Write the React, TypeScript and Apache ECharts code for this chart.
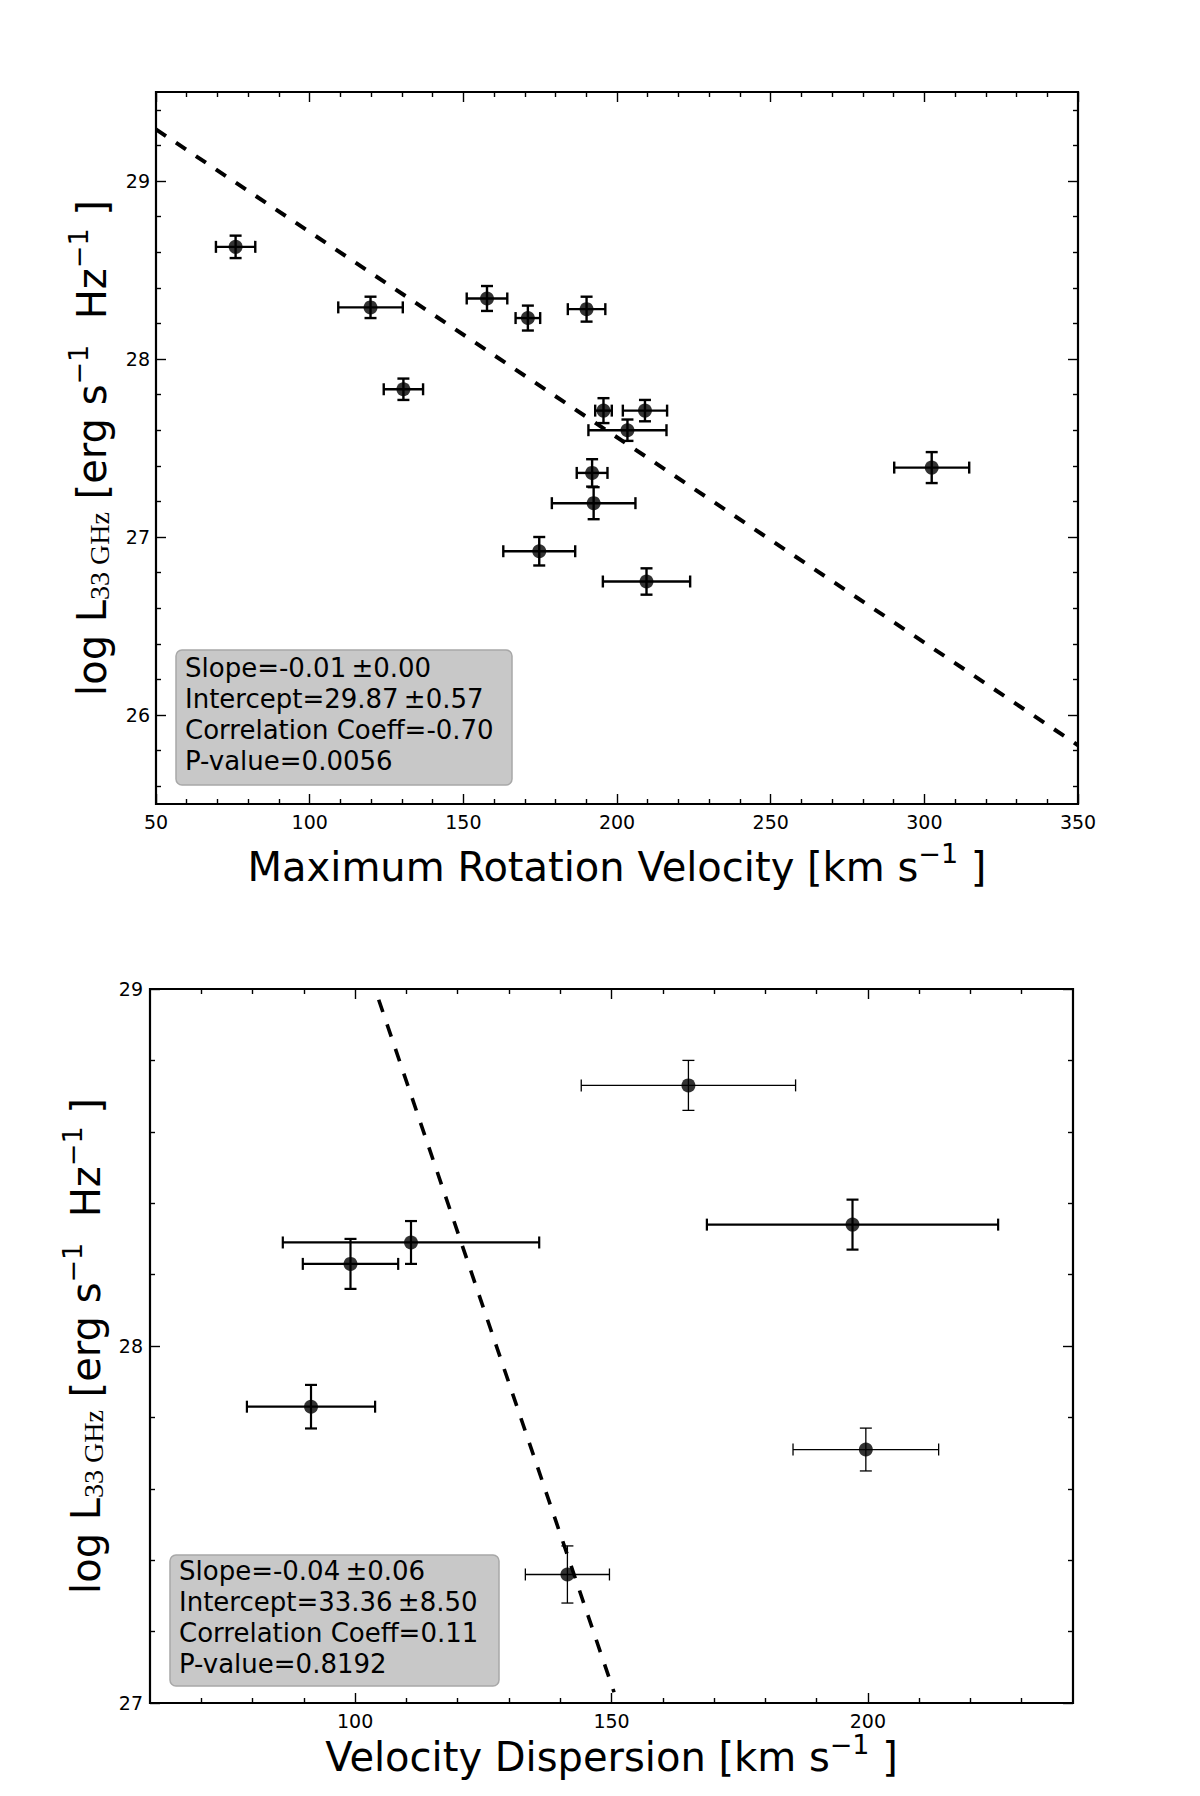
import React, { useEffect, useRef } from "react";
import * as echarts from "echarts";

// ---- data ----
// top panel: maximum rotation velocity vs 33 GHz luminosity
const vrot = [75.9, 119.8, 130.5, 157.7, 171.0, 190.1, 195.6, 209.1, 203.4, 191.9, 192.4, 174.7, 209.6, 302.4];
const vrotErr = [6.4, 10.5, 6.4, 6.6, 4.0, 6.1, 2.7, 7.2, 12.7, 5.0, 13.6, 11.7, 14.2, 12.2];
const lumTop = [28.63, 28.29, 27.83, 28.34, 28.23, 28.28, 27.71, 27.71, 27.6, 27.36, 27.19, 26.92, 26.75, 27.39];
const lumTopErr = [0.063, 0.06, 0.06, 0.07, 0.07, 0.07, 0.07, 0.06, 0.06, 0.077, 0.09, 0.08, 0.074, 0.087];
const fitTop = [[50, 29.29], [350, 25.83]];
const statsTop = ["Slope=-0.01\u2009±0.00", "Intercept=29.87\u2009±0.57", "Correlation Coeff=-0.70", "P-value=0.0056"];

// bottom panel: velocity dispersion vs 33 GHz luminosity
const sigma = [165.0, 197.0, 110.9, 99.1, 91.4, 199.6, 141.4];
const sigmaErr = [20.9, 28.4, 25.0, 9.3, 12.5, 14.2, 8.2];
const lumBot = [28.73, 28.34, 28.29, 28.23, 27.83, 27.71, 27.36];
const lumBotErr = [0.07, 0.07, 0.06, 0.07, 0.061, 0.06, 0.08];
const fitBot = [[104.6, 28.97], [150.5, 27.03]];
const statsBot = ["Slope=-0.04\u2009±0.06", "Intercept=33.36\u2009±8.50", "Correlation Coeff=0.11", "P-value=0.8192"];

// tick labels
const xTicksTop = [50, 100, 150, 200, 250, 300, 350];
const yTicksTop = [26, 27, 28, 29];
const xTicksBot = [100, 150, 200];
const yTicksBot = [27, 28, 29];

// error bar line widths (some bars in the lower panel are drawn thinner)
const barWidthTop = 2.4;
const barWidthBot = [1.3, 2.2, 2.2, 2.2, 2.2, 1.3, 1.3];

const SANS = "'DejaVu Sans', sans-serif";
const SERIF = "'Liberation Serif', 'DejaVu Serif', serif";

const steps = (min: number, max: number, step: number, skip: number[]) => {
  const out: number[] = [];
  for (let v = min; v <= max + 1e-9; v += step) {
    const r = Math.round(v * 100) / 100;
    if (!skip.some((s) => Math.abs(s - r) < 1e-6)) out.push(r);
  }
  return out;
};

const rich = {
  n: { fontSize: 40, fontFamily: SANS, color: "#000" },
  sub: { fontSize: 28, fontFamily: SERIF, color: "#000", padding: [16, 0, 0, 0] },
  sup: { fontSize: 27, fontFamily: SANS, color: "#000", padding: [0, 0, 26, 0] },
};

const yName = "{n|log L}{sub|33 GHz}{n| [erg s}{sup|−1}{n|  Hz}{sup|−1}{n| ]}";

// four axes per side pair: labelled major, minor, opposite major, opposite minor
const frameAxes = (
  dim: "x" | "y",
  grid: number,
  min: number,
  max: number,
  major: number[],
  minor: number[],
  labelMargin: number,
  name: string,
  nameGap: number
) => {
  const side = dim === "x" ? "bottom" : "left";
  const opp = dim === "x" ? "top" : "right";
  const base = {
    type: "value",
    gridIndex: grid,
    min,
    max,
    axisLine: { show: false },
    splitLine: { show: false },
  };
  const tick = (vals: number[], len: number) => ({
    show: true,
    inside: true,
    length: len,
    customValues: vals,
    lineStyle: { color: "#000", width: 1.4 },
  });
  return [
    {
      ...base,
      position: side,
      axisTick: tick(major, 10),
      axisLabel: {
        show: true,
        customValues: major,
        margin: labelMargin,
        fontSize: 19,
        fontFamily: SANS,
        color: "#000",
        showMinLabel: true,
        showMaxLabel: true,
      },
      name,
      nameLocation: "middle",
      nameGap,
      nameRotate: dim === "y" ? 90 : 0,
      nameTextStyle: { rich, fontSize: 40, fontFamily: SANS, color: "#000" },
    },
    { ...base, position: side, axisTick: tick(minor, 5), axisLabel: { show: false } },
    { ...base, position: opp, axisTick: tick(major, 10), axisLabel: { show: false } },
    { ...base, position: opp, axisTick: tick(minor, 5), axisLabel: { show: false } },
  ];
};

const errorBars = (xs: number[], xe: number[], ys: number[], ye: number[], widths: number[], xi: number, yi: number) => ({
  type: "custom",
  xAxisIndex: xi,
  yAxisIndex: yi,
  z: 3,
  data: xs.map((x, i) => [x, ys[i], xe[i], ye[i], widths[i]]),
  renderItem: (_p: any, api: any) => {
    const x = api.value(0);
    const y = api.value(1);
    const ex = api.value(2);
    const ey = api.value(3);
    const lw = api.value(4);
    const l = api.coord([x - ex, y]);
    const r = api.coord([x + ex, y]);
    const t = api.coord([x, y + ey]);
    const b = api.coord([x, y - ey]);
    const cap = 6;
    const style = { stroke: "#000", lineWidth: lw };
    const seg = (x1: number, y1: number, x2: number, y2: number) => ({
      type: "line",
      shape: { x1, y1, x2, y2 },
      style,
    });
    return {
      type: "group",
      children: [
        seg(l[0], l[1], r[0], r[1]),
        seg(t[0], t[1], b[0], b[1]),
        seg(l[0], l[1] - cap, l[0], l[1] + cap),
        seg(r[0], r[1] - cap, r[0], r[1] + cap),
        seg(t[0] - cap, t[1], t[0] + cap, t[1]),
        seg(b[0] - cap, b[1], b[0] + cap, b[1]),
      ],
    };
  },
});

const statsBox = (x: number, y: number, w: number, h: number, lines: string[], firstMid: number) => [
  {
    type: "rect",
    shape: { x, y, width: w, height: h, r: 6 },
    style: { fill: "#c8c8c8", stroke: "#a8a8a8", lineWidth: 1.5 },
    z: 10,
  },
  ...lines.map((t, i) => ({
    type: "text",
    x: x + 9,
    y: firstMid + i * 31,
    z: 11,
    style: {
      text: t,
      fill: "#000",
      font: `26px ${SANS}`,
      textVerticalAlign: "middle",
      verticalAlign: "middle",
    },
  })),
];

const App = () => {
  const chartRef = useRef<HTMLDivElement>(null);

  useEffect(() => {
    document.body.style.margin = "0";
    if (!chartRef.current) return;
    const chart = echarts.init(chartRef.current, null, { renderer: "svg" });

    const xName1 = "{n|Maximum Rotation Velocity [km s}{sup|−1}{n| ]}";
    const xName2 = "{n|Velocity Dispersion [km s}{sup|−1}{n| ]}";

    const xAxes = [
      ...frameAxes("x", 0, 50, 350, xTicksTop, steps(50, 350, 10, xTicksTop), 8, xName1, 36),
      ...frameAxes("x", 1, 60, 240, xTicksBot, steps(60, 240, 10, [60, 240, ...xTicksBot]), 8, xName2, 24),
    ];
    const yAxes = [
      ...frameAxes("y", 0, 25.5, 29.5, yTicksTop, steps(25.6, 29.4, 0.2, yTicksTop), 6, yName, 38),
      ...frameAxes("y", 1, 27, 29, yTicksBot, steps(27.2, 28.8, 0.2, yTicksBot), 7, yName, 36),
    ];

    const options = {
      animation: false,
      backgroundColor: "#fff",
      grid: [
        { left: 156, top: 92, width: 922, height: 712, show: true, borderColor: "#000", borderWidth: 2.2, backgroundColor: "transparent" },
        { left: 150, top: 989, width: 923, height: 714, show: true, borderColor: "#000", borderWidth: 2.2, backgroundColor: "transparent" },
      ],
      xAxis: xAxes,
      yAxis: yAxes,
      series: [
        {
          type: "line",
          xAxisIndex: 0,
          yAxisIndex: 0,
          data: fitTop,
          showSymbol: false,
          z: 2,
          lineStyle: { color: "#000", width: 4, type: [12, 12] },
        },
        errorBars(vrot, vrotErr, lumTop, lumTopErr, vrot.map(() => barWidthTop), 0, 0),
        {
          type: "scatter",
          xAxisIndex: 0,
          yAxisIndex: 0,
          data: vrot.map((v, i) => [v, lumTop[i]]),
          symbolSize: 14,
          z: 4,
          itemStyle: { color: "#000" },
        },
        {
          type: "line",
          xAxisIndex: 4,
          yAxisIndex: 4,
          data: fitBot,
          showSymbol: false,
          z: 2,
          lineStyle: { color: "#000", width: 3.6, type: [13, 13] },
        },
        errorBars(sigma, sigmaErr, lumBot, lumBotErr, barWidthBot, 4, 4),
        {
          type: "scatter",
          xAxisIndex: 4,
          yAxisIndex: 4,
          data: sigma.map((v, i) => [v, lumBot[i]]),
          symbolSize: 14,
          z: 4,
          itemStyle: { color: "#000" },
        },
      ],
      graphic: [
        ...statsBox(176, 650, 336, 135, statsTop, 668),
        ...statsBox(170, 1555, 329, 131, statsBot, 1571),
      ],
    };

    chart.setOption(options);

    return () => {
      chart.dispose();
    };
  }, []);

  return <div ref={chartRef} style={{ width: "1200px", height: "1796px" }} />;
};

export default App;
